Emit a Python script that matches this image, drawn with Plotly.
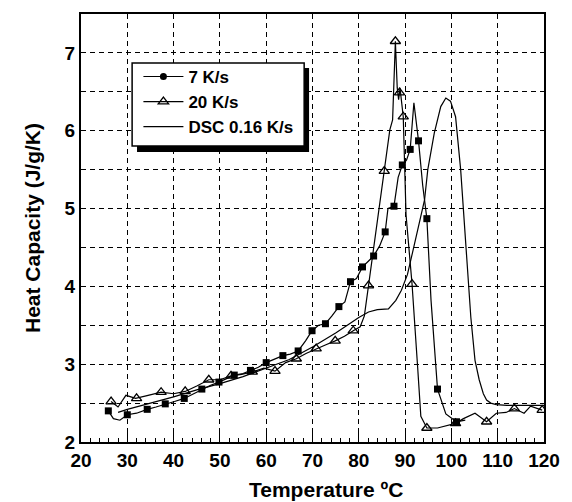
import plotly.graph_objects as go

# ---- 7 K/s (filled squares) : line points and marker points ----
x7_line = [25.9, 27.0, 28.4, 30.0, 32.0, 34.3, 36.2, 38.2, 40.2, 42.3, 44.2, 46.1, 48.0, 49.8,
           51.5, 53.1, 55.0, 56.6, 58.3, 60.0, 61.8, 63.6, 65.2, 66.9, 68.5, 69.9, 71.3, 72.8,
           74.2, 75.7, 77.0, 78.2, 79.5, 80.8, 82.0, 83.2, 84.5, 85.7, 86.3, 87.6, 88.5, 89.4,
           90.3, 91.1, 91.9, 92.9, 93.8, 94.7, 95.6, 97.0, 98.8, 101.1, 103.0]
y7_line = [2.40, 2.30, 2.28, 2.35, 2.37, 2.42, 2.45, 2.49, 2.52, 2.56, 2.62, 2.68, 2.73, 2.77,
           2.82, 2.86, 2.88, 2.92, 2.96, 3.02, 3.06, 3.11, 3.13, 3.17, 3.30, 3.43, 3.50, 3.52,
           3.62, 3.74, 3.80, 4.06, 4.10, 4.25, 4.32, 4.39, 4.52, 4.70, 5.00, 5.03, 5.40, 5.56,
           5.62, 5.76, 6.36, 5.87, 5.30, 4.87, 3.82, 2.68, 2.36, 2.26, 2.28]
x7_mark = [25.9, 30.0, 34.3, 38.2, 42.3, 46.1, 49.8, 53.1, 56.6, 60.0, 63.6, 66.9, 69.9,
           72.8, 75.7, 78.2, 80.8, 83.2, 85.7, 87.6, 89.4, 91.1, 92.9, 94.7, 97.0, 101.1]
y7_mark = [2.40, 2.35, 2.42, 2.49, 2.56, 2.68, 2.77, 2.86, 2.92, 3.02, 3.11, 3.17, 3.43,
           3.52, 3.74, 4.06, 4.25, 4.39, 4.70, 5.03, 5.56, 5.76, 5.87, 4.87, 2.68, 2.26]

# ---- 20 K/s (open triangles) ----
x20_line = [26.5, 28.0, 29.7, 31.8, 34.5, 37.3, 40.0, 42.5, 45.0, 47.6, 50.0, 52.4, 54.7, 57.0,
            59.5, 61.9, 64.2, 66.5, 68.7, 70.8, 72.9, 74.9, 76.9, 78.8, 80.3, 81.2, 82.1, 83.5,
            84.6, 85.5, 86.7, 87.3, 87.9, 88.3, 88.6, 88.9, 89.2, 89.6, 90.2, 90.8, 91.5, 92.7,
            93.4, 94.7, 97.0, 100.9, 102.6, 105.1, 107.6, 109.7, 111.8, 113.6, 115.7, 117.1, 119.6]
y20_line = [2.52, 2.45, 2.60, 2.56, 2.60, 2.64, 2.62, 2.65, 2.72, 2.80, 2.80, 2.85, 2.87, 2.90,
            2.95, 2.91, 3.02, 3.07, 3.14, 3.20, 3.25, 3.30, 3.36, 3.43, 3.48, 3.62, 4.01, 4.60,
            5.10, 5.48, 6.01, 6.14, 7.15, 6.55, 6.40, 6.55, 6.35, 6.18, 4.92, 4.50, 4.03, 2.97,
            2.33, 2.18, 2.18, 2.24, 2.30, 2.37, 2.26, 2.37, 2.38, 2.43, 2.37, 2.46, 2.41]
x20_mark = [26.5, 32.0, 37.3, 42.5, 47.6, 52.4, 57.0, 61.9, 66.5, 70.8, 74.9, 78.8, 82.1,
            85.5, 87.9, 88.8, 89.6, 91.5, 94.7, 100.9, 107.6, 113.6, 119.6]
y20_mark = [2.52, 2.56, 2.64, 2.65, 2.80, 2.85, 2.90, 2.91, 3.07, 3.20, 3.30, 3.43, 4.01,
            5.48, 7.15, 6.49, 6.18, 4.03, 2.18, 2.24, 2.26, 2.43, 2.41]

# ---- DSC 0.16 K/s (plain line) ----
xdsc = [28.0, 30.0, 35.0, 40.0, 45.0, 50.0, 55.0, 60.0, 65.0, 70.0, 75.0, 78.0, 80.0, 82.1,
        84.0, 86.4, 88.0, 89.2, 90.5, 91.7, 93.0, 94.2, 94.9, 96.3, 97.7, 98.8, 99.8, 100.9,
        102.0, 103.4, 104.2, 105.1, 106.0, 106.9, 107.6, 108.5, 109.7, 112.0, 115.0, 118.0, 120.0]
ydsc = [2.38, 2.42, 2.50, 2.58, 2.67, 2.75, 2.84, 2.95, 3.06, 3.22, 3.40, 3.52, 3.60, 3.67,
        3.70, 3.71, 3.82, 3.95, 4.15, 4.46, 4.80, 5.11, 5.50, 5.97, 6.31, 6.42, 6.38, 6.18,
        5.50, 4.25, 3.60, 3.05, 2.80, 2.62, 2.54, 2.50, 2.48, 2.47, 2.47, 2.47, 2.47]

series_names = ["7 K/s", "20 K/s", "DSC 0.16 K/s"]
x_ticks = [20, 30, 40, 50, 60, 70, 80, 90, 100, 110, 120]
y_ticks = [2, 3, 4, 5, 6, 7]
x_title = "Temperature ºC"
y_title = "Heat Capacity (J/g/K)"

FONT = "Liberation Sans, Arial, Helvetica, sans-serif"
LW = 1.2

fig = go.Figure()

# 7 K/s
fig.add_trace(go.Scatter(x=x7_line, y=y7_line, mode="lines", line=dict(color="black", width=LW),
                         showlegend=False, hoverinfo="skip"))
fig.add_trace(go.Scatter(x=x7_mark, y=y7_mark, mode="markers",
                         marker=dict(symbol="square", size=7, color="black"), showlegend=False))
# 20 K/s
fig.add_trace(go.Scatter(x=x20_line, y=y20_line, mode="lines", line=dict(color="black", width=LW),
                         showlegend=False, hoverinfo="skip"))
fig.add_trace(go.Scatter(x=x20_mark, y=y20_mark, mode="markers",
                         marker=dict(symbol="triangle-up-open", size=9, color="black",
                                     line=dict(width=1.3, color="black")), showlegend=False))
# DSC
fig.add_trace(go.Scatter(x=xdsc, y=ydsc, mode="lines", line=dict(color="black", width=LW),
                         showlegend=False))

# legend entries
fig.add_trace(go.Scatter(x=[None], y=[None], mode="lines+markers", name=series_names[0],
                         line=dict(color="black", width=LW),
                         marker=dict(symbol="circle", size=7, color="black")))
fig.add_trace(go.Scatter(x=[None], y=[None], mode="lines+markers", name=series_names[1],
                         line=dict(color="black", width=LW),
                         marker=dict(symbol="triangle-up-open", size=9, color="black",
                                     line=dict(width=1.3, color="black"))))
fig.add_trace(go.Scatter(x=[None], y=[None], mode="lines", name=series_names[2],
                         line=dict(color="black", width=LW)))

# legend box with drop shadow (paper coordinates)
fig.add_shape(type="rect", xref="paper", yref="paper", x0=0.121, x1=0.4926, y0=0.6776, y1=0.8738,
              fillcolor="black", line=dict(width=0), layer="above")
fig.add_shape(type="rect", xref="paper", yref="paper", x0=0.1104, x1=0.482, y0=0.6916, y1=0.8855,
              fillcolor="white", line=dict(color="black", width=1.5), layer="above")

axis_common = dict(showline=True, linecolor="black", linewidth=2, mirror=True,
                   showgrid=True, gridcolor="black", gridwidth=1, griddash="5px,4px",
                   zeroline=False, tickfont=dict(family=FONT, size=19, color="black"))

fig.update_xaxes(range=[20, 120], tickvals=x_ticks,
                 ticktext=[f"<b>{v}</b>" for v in x_ticks],
                 ticks="inside", ticklen=9, tickwidth=1, tickcolor="black",
                 minor=dict(dtick=2, ticks="inside", ticklen=4, tickwidth=1, tickcolor="black",
                            showgrid=False),
                 **axis_common)
fig.update_yaxes(range=[2, 7.5], tickvals=y_ticks,
                 ticktext=[f"<b>{v}</b>" for v in y_ticks], ticks="",
                 minor=dict(dtick=0.5, showgrid=True, gridcolor="black", gridwidth=1,
                            griddash="5px,4px", ticks=""),
                 title=dict(text=f"<b>{y_title}</b>",
                            font=dict(family=FONT, size=21, color="black"), standoff=18),
                 **axis_common)

fig.add_annotation(text=f"<b>{x_title}</b>", xref="paper", yref="paper", x=0.529, y=-0.112,
                   xanchor="center", yanchor="middle", showarrow=False,
                   font=dict(family=FONT, size=21, color="black"))

fig.update_layout(
    width=572, height=502,
    margin=dict(l=81, r=20, t=14, b=60),
    paper_bgcolor="white", plot_bgcolor="white",
    showlegend=True,
    legend=dict(x=0.124, y=0.895, xanchor="left", yanchor="top", bgcolor="rgba(0,0,0,0)",
                borderwidth=0, itemwidth=40, tracegroupgap=0,
                font=dict(family=FONT, size=17, color="black", weight="bold")),
)

fig.write_html("out.html", config={"displayModeBar": False},
               post_script="document.body.style.margin='0';")
